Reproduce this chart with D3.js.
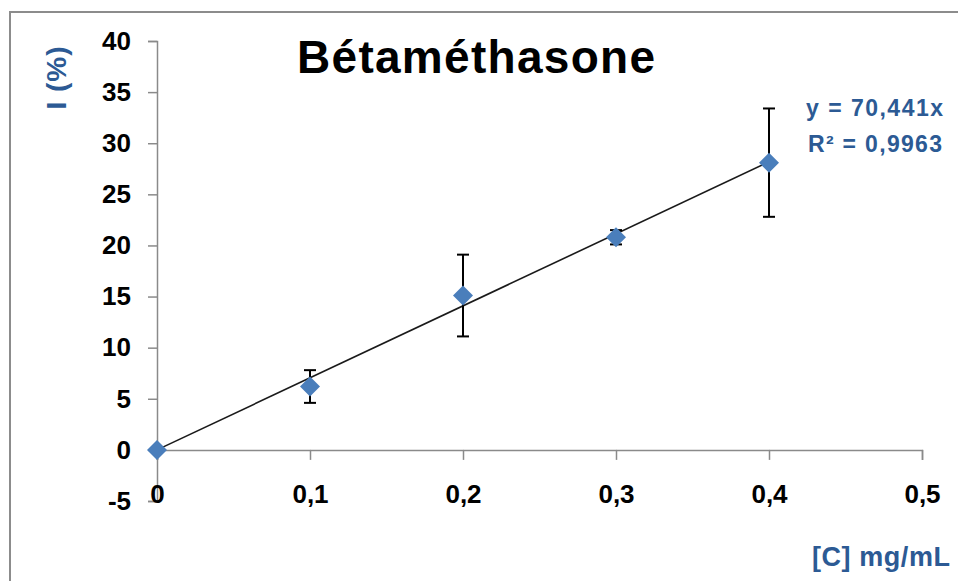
<!DOCTYPE html>
<html>
<head>
<meta charset="utf-8">
<script src="https://cdn.jsdelivr.net/npm/d3@7"></script>
<style>
    body { margin: 0; background: #fff; }
    svg { display: block; font-family: "Liberation Sans", Arial, sans-serif; }
</style>
</head>
<body>
<div id="chart"></div>
<script>

// data
let concentrations = [0, 0.1, 0.2, 0.3, 0.4];
let inhibition = [0, 6.2, 15.1, 20.8, 28.1];
let errors = [0, 1.6, 4.0, 0.7, 5.3];
let slope = 70.441;
let xTicks = [0, 0.1, 0.2, 0.3, 0.4, 0.5];
let yTicks = [-5, 0, 5, 10, 15, 20, 25, 30, 35, 40];

let width = 958, height = 581;
let margin = {top: 41, right: 36, bottom: 80, left: 157};
let blue = "#2c5a94";

let svg = d3.select("#chart").append("svg")
    .attr("width", width)
    .attr("height", height);

// chart frame
svg.append("path")
    .attr("d", "M10,581 V12 H958")
    .attr("fill", "none")
    .attr("stroke", "#8c8c8c")
    .attr("stroke-width", 2);

let x = d3.scaleLinear()
    .domain([0, 0.5])
    .range([margin.left, width - margin.right]);

let y = d3.scaleLinear()
    .domain([-5, 40])
    .range([height - margin.bottom, margin.top]);

let fmt = d => String(d).replace(".", ",");

// y axis
let yAxis = d3.axisLeft(y)
    .tickValues(yTicks)
    .tickSize(9)
    .tickPadding(17)
    .tickFormat(fmt);

let yAxisGroup = svg.append("g")
    .attr("transform", `translate(${x(0)},0)`)
    .call(yAxis);

// x axis sits on y = 0
let xAxis = d3.axisBottom(x)
    .tickValues(xTicks)
    .tickSize(10)
    .tickFormat(fmt);

let xAxisGroup = svg.append("g")
    .attr("transform", `translate(0,${y(0)})`)
    .call(xAxis);

xAxisGroup.selectAll(".tick text")
    .attr("y", y(-5) - y(0) + 2)
    .attr("dy", 0);

[yAxisGroup, xAxisGroup].forEach(g => {
    g.select(".domain").attr("stroke", "#8a8a8a").attr("stroke-width", 1.5);
    g.selectAll(".tick line").attr("stroke", "#8a8a8a").attr("stroke-width", 1.5);
    g.selectAll(".tick text")
        .attr("fill", "#000")
        .style("font-size", "26px")
        .style("font-weight", "bold");
});

// trend line
svg.append("line")
    .attr("x1", x(0))
    .attr("y1", y(0))
    .attr("x2", x(0.4))
    .attr("y2", y(slope * 0.4))
    .attr("stroke", "#1a1a1a")
    .attr("stroke-width", 1.6);

let points = concentrations.map((c, i) => ({x: c, y: inhibition[i], e: errors[i]}));

// error bars
let bars = svg.append("g").attr("class", "error-bars")
    .selectAll("g")
    .data(points.filter(d => d.e > 0))
    .enter().append("g");

bars.append("line")
    .attr("x1", d => x(d.x)).attr("x2", d => x(d.x))
    .attr("y1", d => y(d.y + d.e)).attr("y2", d => y(d.y - d.e))
    .attr("stroke", "#000").attr("stroke-width", 2);

bars.selectAll(".cap")
    .data(d => [{x: d.x, v: d.y + d.e}, {x: d.x, v: d.y - d.e}])
    .enter().append("line")
    .attr("class", "cap")
    .attr("x1", d => x(d.x) - 6).attr("x2", d => x(d.x) + 6)
    .attr("y1", d => y(d.v)).attr("y2", d => y(d.v))
    .attr("stroke", "#000").attr("stroke-width", 2);

// markers
svg.append("g")
    .selectAll("path")
    .data(points)
    .enter().append("path")
    .attr("d", "M0,-10 L10,0 L0,10 L-10,0 Z")
    .attr("transform", d => `translate(${x(d.x)},${y(d.y)})`)
    .attr("fill", "#4a7ebb");

// title
svg.append("text")
    .attr("x", 476)
    .attr("y", 73)
    .attr("text-anchor", "middle")
    .attr("textLength", 358)
    .style("font-size", "46px")
    .style("font-weight", "bold")
    .text("Bétaméthasone");

// axis titles
svg.append("text")
    .attr("transform", "translate(66,78) rotate(-90)")
    .attr("text-anchor", "middle")
    .attr("textLength", 63)
    .attr("fill", blue)
    .style("font-size", "28px")
    .style("font-weight", "bold")
    .text("I (%)");

svg.append("text")
    .attr("x", 812)
    .attr("y", 566)
    .attr("textLength", 138)
    .attr("fill", blue)
    .style("font-size", "27px")
    .style("font-weight", "bold")
    .text("[C] mg/mL");

// regression label
svg.append("text")
    .attr("x", 806)
    .attr("y", 116)
    .attr("textLength", 137)
    .attr("fill", blue)
    .style("font-size", "23px")
    .style("font-weight", "bold")
    .text("y = 70,441x");

svg.append("text")
    .attr("x", 808)
    .attr("y", 152)
    .attr("textLength", 134)
    .attr("fill", blue)
    .style("font-size", "23px")
    .style("font-weight", "bold")
    .text("R² = 0,9963");

</script>
</body>
</html>
